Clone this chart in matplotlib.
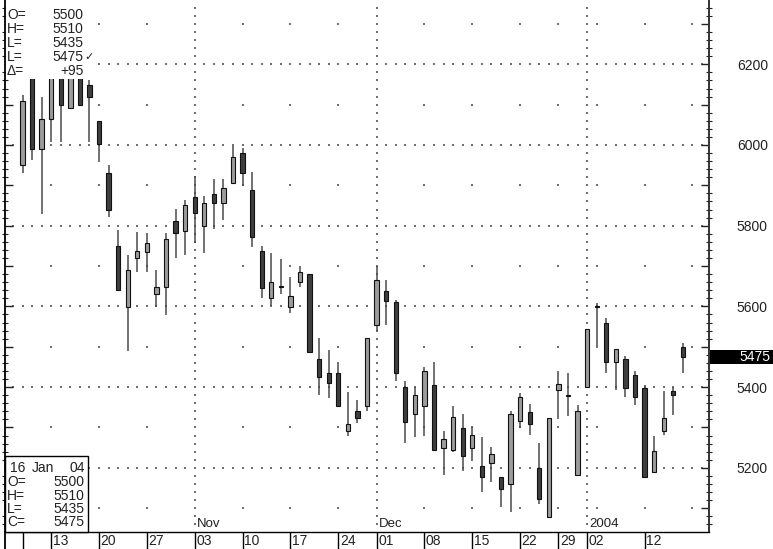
import matplotlib
matplotlib.use('Agg')
import matplotlib.pyplot as plt
import numpy as np
from matplotlib.patches import Rectangle
from matplotlib.lines import Line2D
from matplotlib.transforms import blended_transform_factory
from matplotlib.ticker import MultipleLocator, FuncFormatter

plt.rcParams['font.family'] = ['Liberation Sans', 'DejaVu Sans']

# ---- data (trading-day index 0 = 8 Oct 2003 ... 69 = 16 Jan 2004) ----
opens = [5950, 6230, 5990, 6064, 6210, 6092, 6200, 6149, 6059, 5930,
         5750, 5598, 5719, 5736, 5630, 5647, 5811, 5788, 5870, 5799,
         5879, 5857, 5905, 5980, 5889, 5738, 5620, 5650, 5599, 5660,
         5680, 5470, 5436, 5436, 5292, 5342, 5352, 5554, 5637, 5610,
         5401, 5333, 5352, 5406, 5248, 5244, 5298, 5248, 5205, 5211,
         5176, 5159, 5316, 5339, 5200, 5078, 5393, 5380, 5182, 5401,
         5600, 5560, 5461, 5470, 5430, 5397, 5190, 5290, 5390, 5500]
highs = [6125, 6245, 6120, 6215, 6225, 6205, 6215, 6162, 6059, 5950,
         5789, 5727, 5784, 5781, 5689, 5781, 5841, 5864, 5922, 5874,
         5915, 5915, 5998, 5992, 5934, 5750, 5732, 5717, 5672, 5700,
         5680, 5521, 5492, 5463, 5387, 5368, 5521, 5700, 5666, 5617,
         5415, 5401, 5451, 5463, 5290, 5352, 5333, 5302, 5277, 5251,
         5176, 5341, 5386, 5358, 5262, 5323, 5441, 5436, 5356, 5543,
         5609, 5571, 5495, 5477, 5440, 5405, 5279, 5391, 5401, 5510]
lows = [5930, 5963, 5828, 6008, 6008, 6092, 6098, 6008, 5959, 5821,
        5641, 5490, 5685, 5685, 5598, 5579, 5719, 5727, 5758, 5732,
        5791, 5814, 5905, 5898, 5747, 5620, 5602, 5631, 5583, 5649,
        5488, 5380, 5372, 5352, 5279, 5310, 5342, 5540, 5554, 5416,
        5261, 5277, 5280, 5243, 5182, 5240, 5193, 5218, 5141, 5166,
        5102, 5091, 5298, 5281, 5110, 5078, 5321, 5329, 5182, 5401,
        5502, 5434, 5393, 5375, 5356, 5177, 5188, 5281, 5331, 5435]
closes = [6110, 5990, 6064, 6195, 6098, 6190, 6098, 6118, 6003, 5839,
          5641, 5690, 5737, 5756, 5647, 5768, 5783, 5851, 5832, 5856,
          5857, 5893, 5971, 5931, 5773, 5645, 5661, 5647, 5627, 5686,
          5488, 5424, 5410, 5354, 5309, 5323, 5521, 5666, 5614, 5434,
          5314, 5381, 5441, 5243, 5272, 5327, 5229, 5281, 5176, 5234,
          5147, 5333, 5376, 5309, 5122, 5323, 5407, 5378, 5342, 5543,
          5598, 5463, 5494, 5399, 5376, 5178, 5242, 5323, 5380, 5475]

week_idx = [0, 3, 8, 13, 18, 23, 28, 33, 37, 42, 47, 52, 56, 59, 65]
week_labels = ['', '13', '20', '27', '03', '10', '17', '24', '01', '08',
               '15', '22', '29', '02', '12']
month_idx = [18, 37, 59]
month_labels = ['Nov', 'Dec', '2004']
grid_week_idx = [3, 8, 13, 23, 28, 33, 42, 47, 52, 56, 60, 65, 70]
last_date = ['16', 'Jan', '04']

# ---- layout ----
W, H = 773, 549
fig = plt.figure(figsize=(W / 100, H / 100), dpi=100)
fig.patch.set_facecolor('white')
L, R, T, B = 5, 709, 0, 532
ax = fig.add_axes([L / W, (H - B) / H, (R - L) / W, (B - T) / H])
ax.set_facecolor('white')

x0px, dxpx = 22.5, 9.57
ax.set_xlim((L - x0px) / dxpx, (R - x0px) / dxpx)
ppx = 200 / 80.7            # price per pixel
ax.set_ylim(6200 - (B - 64.3) * ppx, 6200 + (64.3 - T) * ppx)

def fx(px):
    return px / W

def fy(py):
    return 1 - py / H

o = np.array(opens, float)
h = np.array(highs, float)
l = np.array(lows, float)
c = np.array(closes, float)
x = np.arange(len(o))
up = c > o
light, dark = '#9c9c9c', '#3e3e3e'
cols = np.where(up, light, dark)

# ---- grid dots ----
dot_kw = dict(s=1.0, marker='s', color='#707070', linewidths=0, zorder=1)
gx = np.arange(-1, 72)
for lev in range(5200, 6201, 200):
    ax.scatter(gx, np.full(gx.shape, lev), **dot_kw)
mlev = np.arange(5060, 6360, 20)
for mi in month_idx:
    ax.scatter(np.full(mlev.shape, mi), mlev, **dot_kw)
for lev in range(5100, 6301, 200):
    ax.scatter(grid_week_idx, [lev] * len(grid_week_idx), **dot_kw)

# ---- candles ----
ax.vlines(x, l, h, color='#4a4a4a', lw=1.1, zorder=2)
ax.bar(x, np.maximum(np.abs(c - o), 3), bottom=np.minimum(o, c), width=0.45,
       color=cols, edgecolor='#111', linewidth=0.8, zorder=3)

# ---- axes styling ----
ax.spines['top'].set_visible(False)
ax.spines['left'].set_linewidth(1.3)
ax.spines['right'].set_linewidth(1.4)
ax.spines['right'].set_color('#333')
ax.spines['bottom'].set_linewidth(1.0)

ax.yaxis.set_major_locator(MultipleLocator(100))
ax.yaxis.set_minor_locator(MultipleLocator(20))
ax.yaxis.set_major_formatter(FuncFormatter(
    lambda v, _: f'{int(round(v))}' if int(round(v)) % 200 == 0 else ''))
ax.tick_params(axis='y', which='major', direction='in', length=6, width=1,
               left=True, right=True, labelleft=False, labelright=True,
               pad=20, labelsize=10, labelcolor='#222', color='#222')
ax.tick_params(axis='y', which='minor', direction='inout', length=5, width=0.8,
               left=True, right=True, color='#222')

ax.set_xticks(week_idx)
ax.set_xticklabels([])
ax.tick_params(axis='x', which='major', direction='out', length=12.5, width=1,
               color='black', bottom=True, top=False)

for i, lab in zip(week_idx, week_labels):
    if lab:
        ax.annotate(lab, xy=(i, 0), xycoords=('data', 'axes fraction'),
                    xytext=(1.5, -9), textcoords='offset pixels',
                    ha='left', va='center', fontsize=10, color='#222',
                    annotation_clip=False)
for i, lab in zip(month_idx, month_labels):
    ax.annotate(lab, xy=(i, 0), xycoords=('data', 'axes fraction'),
                xytext=(2, 8), textcoords='offset pixels',
                ha='left', va='center', fontsize=9.5, color='#222', zorder=4)

# left border continues into the date strip
fig.add_artist(Line2D([fx(L), fx(L)], [fy(B), fy(H)], transform=fig.transFigure,
                      color='black', lw=1.3))

# ---- top-left info box ----
fig.add_artist(Rectangle((fx(L + 0.8), fy(79)), fx(93) - fx(L + 0.8), fy(0) - fy(79),
                         transform=fig.transFigure, facecolor='white',
                         edgecolor='none', zorder=1))
delta = c[-1] - c[-2]
top_rows = [('O=', f'{int(o[-1])}', ''), ('H=', f'{int(h[-1])}', ''),
            ('L=', f'{int(l[-1])}', ''), ('L=', f'{int(c[-1])}', '✓'),
            ('Δ=', f'{int(delta):+d}', '')]
for k, (a, b, extra) in enumerate(top_rows):
    yy = 15 + 14 * k
    fig.text(fx(7), fy(yy), a, ha='left', va='center', fontsize=10, color='#222')
    fig.text(fx(83.5), fy(yy), b, ha='right', va='center', fontsize=10, color='#222')
    if extra:
        fig.text(fx(84), fy(yy), extra, ha='left', va='center', fontsize=8,
                 color='#222')

# ---- bottom-left info box ----
fig.add_artist(Rectangle((fx(L), fy(B)), fx(87.5) - fx(L), fy(456) - fy(B),
                         transform=fig.transFigure, facecolor='white',
                         edgecolor='black', lw=1.0, zorder=1))
fig.text(fx(10), fy(468), last_date[0], ha='left', va='center', fontsize=10, color='#222')
fig.text(fx(43), fy(468), last_date[1], ha='center', va='center', fontsize=10, color='#222')
fig.text(fx(85), fy(468), last_date[2], ha='right', va='center', fontsize=10, color='#222')
bot_rows = [('O=', o[-1]), ('H=', h[-1]), ('L=', l[-1]), ('C=', c[-1])]
for k, (a, v) in enumerate(bot_rows):
    yy = 482 + 13.5 * k
    fig.text(fx(7), fy(yy), a, ha='left', va='center', fontsize=10, color='#222')
    fig.text(fx(84.5), fy(yy), f'{int(v)}', ha='right', va='center', fontsize=10,
             color='#222')

# ---- last price marker on right axis ----
bt = blended_transform_factory(fig.transFigure, ax.transData)
fig.add_artist(Rectangle((fx(710), c[-1] - 7 * ppx), fx(773) - fx(710), 14 * ppx,
                         transform=bt, facecolor='black', edgecolor='none',
                         zorder=2))
fig.text(fx(770), c[-1], f'{int(c[-1])}', transform=bt, ha='right', va='center',
         fontsize=10, color='white', zorder=3)

fig.savefig('out.png', dpi=100)
